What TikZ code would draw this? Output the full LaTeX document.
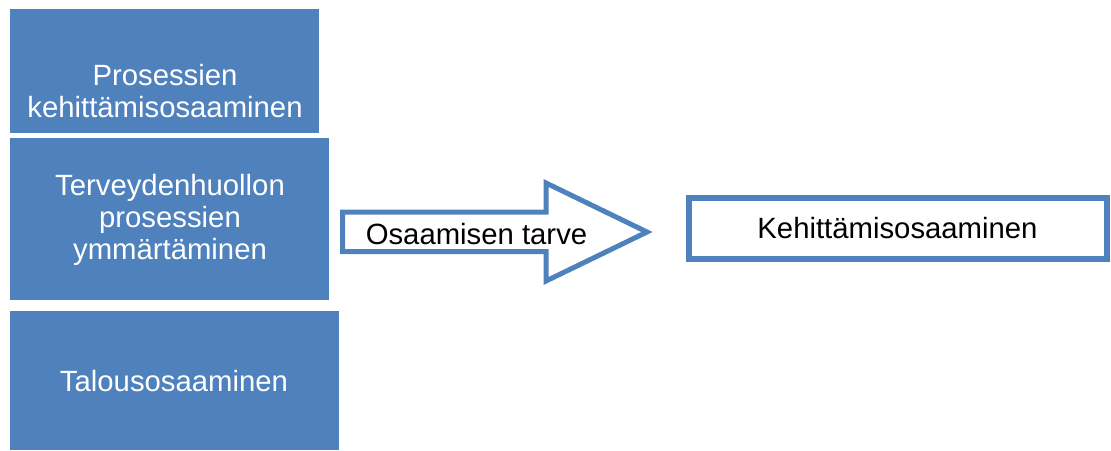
\documentclass[tikz,border=0pt]{standalone}
\usepackage{fontspec}
\setmainfont{Liberation Sans}
\definecolor{officeblue}{HTML}{4F81BD}
\begin{document}
\begin{tikzpicture}[x=1pt,y=-1pt,
  bluebox/.style={fill=officeblue, draw=none, inner sep=0pt},
  boxtext/.style={text=white, align=center, inner sep=0pt, font=\fontsize{29.3}{32}\selectfont},
  darktext/.style={text=black, inner sep=0pt, font=\fontsize{29.3}{32}\selectfont},
  outline/.style={draw=officeblue, line join=miter, fill=white}
]
\useasboundingbox (0,0) rectangle (1111,450);

% stacked competence blocks
\fill[officeblue] (10,9) rectangle (319,133);
\node[boxtext] (b1) at (165,91) {Prosessien\\kehittämisosaaminen};

\fill[officeblue] (10,138) rectangle (329,300);
\node[boxtext] (b2) at (170,220) {Terveydenhuollon\\prosessien\\ymmärtäminen};

\fill[officeblue] (10,311) rectangle (339,450);
\node[boxtext] (b3) at (174,381) {Talousosaaminen};

% block arrow
\draw[outline, line width=5pt]
  (342.5,212) -- (546,212) -- (546,183) -- (647,232) -- (546,281)
  -- (546,251.5) -- (342.5,251.5) -- cycle;
\node[darktext] (need) at (476.5,234) {Osaamisen tarve};

% target box
\draw[outline, line width=6pt] (689,198) rectangle (1107,259);
\node[darktext] (dev) at (897.5,228) {Kehittämisosaaminen};
\end{tikzpicture}
\end{document}
